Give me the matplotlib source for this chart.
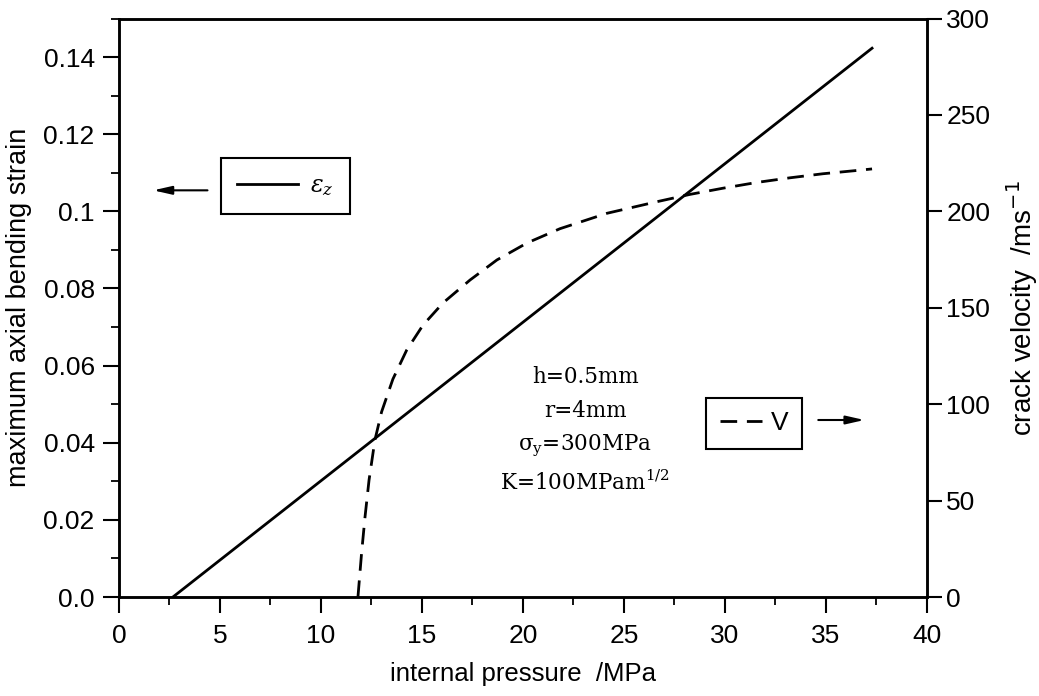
import matplotlib
matplotlib.use("Agg")
import matplotlib.pyplot as plt
from matplotlib.ticker import MultipleLocator, FuncFormatter

# データ
strain_p = [2.67, 37.28]
strain = [0.0, 0.1423]

vel_p = [11.83, 12.01, 12.18, 12.38, 12.67, 13.0, 13.56, 14.24, 15.05, 16.04,
         17.38, 18.71, 20.2, 21.83, 24.16, 26.63, 28.27, 29.9, 31.58, 33.22,
         34.85, 36.53, 37.28]
vel = [0.0, 22.8, 41.5, 60.7, 81.4, 96.0, 113.0, 128.0, 141.0, 152.5,
       164.4, 174.8, 183.6, 191.0, 199.0, 205.0, 208.8, 212.0, 215.0, 217.4,
       219.5, 221.2, 222.0]

params = ["h=0.5mm", "r=4mm", r"σ$_{\mathrm{y}}$=300MPa", r"K=100MPam$^{1/2}$"]

plt.rcParams["font.family"] = ["Liberation Sans", "DejaVu Sans"]
plt.rcParams["mathtext.fontset"] = "dejavuserif"

fig = plt.figure(figsize=(10.39, 6.96), dpi=100)
ax = fig.add_axes([0.1145, 0.1422, 0.7777, 0.8312])
ax2 = ax.twinx()

l1, = ax.plot(strain_p, strain, color="black", lw=2.0)
l2, = ax2.plot(vel_p, vel, color="black", lw=2.0, dashes=(6, 3.5))

ax.set_xlim(0, 40)
ax.set_ylim(0, 0.15)
ax2.set_ylim(0, 300)

ax.xaxis.set_major_locator(MultipleLocator(5))
ax.xaxis.set_minor_locator(MultipleLocator(2.5))
ax.yaxis.set_major_locator(MultipleLocator(0.02))
ax.yaxis.set_minor_locator(MultipleLocator(0.01))
ax.yaxis.set_major_formatter(FuncFormatter(lambda v, p: "0.0" if abs(v) < 1e-9 else f"{v:g}"))
ax2.yaxis.set_major_locator(MultipleLocator(50))

for a in (ax, ax2):
    for s in a.spines.values():
        s.set_linewidth(1.8)

ax.tick_params(axis="both", which="major", direction="out", length=11.5, width=1.5,
               labelsize=19, pad=6)
ax.tick_params(axis="both", which="minor", direction="out", length=6, width=1.3)
ax.tick_params(axis="x", pad=8)
ax2.tick_params(axis="y", which="major", direction="out", length=11, width=1.5,
                labelsize=19, pad=3)

ax.set_xlabel("internal pressure  /MPa", fontsize=18.5, labelpad=10)
ax.set_ylabel("maximum axial bending strain", fontsize=19.5, labelpad=8)
ax2.set_ylabel(r"crack velocity  /ms$^{\mathsf{-1}}$", fontsize=20, labelpad=10)

# 凡例ボックス
leg1 = ax.legend([l1], [r"$\varepsilon_z$"], loc="center", bbox_to_anchor=(0.206, 0.71),
                 fancybox=False, edgecolor="black", framealpha=1, fontsize=17,
                 handlelength=2.6, borderpad=0.7, handletextpad=0.5)
leg1.get_frame().set_linewidth(1.5)
leg2 = ax2.legend([l2], ["V"], loc="center", bbox_to_anchor=(0.786, 0.3),
                  fancybox=False, edgecolor="black", framealpha=1, fontsize=19,
                  handlelength=1.6, borderpad=0.5, handletextpad=0.35)
leg2.get_frame().set_linewidth(1.5)

ax.annotate("", xy=(0.039, 0.703), xytext=(0.113, 0.703), xycoords="axes fraction",
            arrowprops=dict(arrowstyle="-|>,head_length=1.1,head_width=0.25",
                            color="black", lw=1.5))
ax2.annotate("", xy=(0.926, 0.306), xytext=(0.862, 0.306), xycoords="axes fraction",
             arrowprops=dict(arrowstyle="-|>,head_length=1.1,head_width=0.25",
                             color="black", lw=1.5))

ys = [0.381, 0.321, 0.262, 0.197]
for t, y in zip(params, ys):
    ax.text(0.577, y, t, transform=ax.transAxes, ha="center", va="center",
            fontsize=15.5, family="DejaVu Serif")

fig.savefig("out.png", dpi=100)
